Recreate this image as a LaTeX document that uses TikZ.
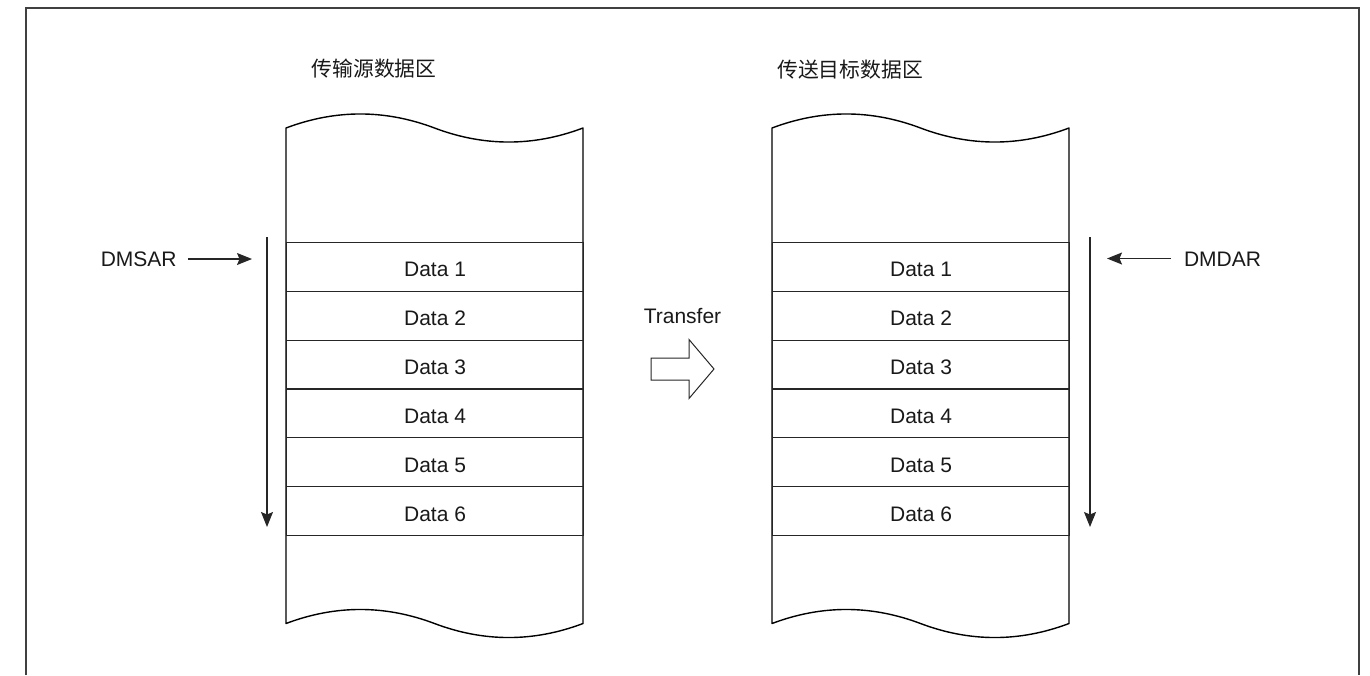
\documentclass[tikz,border=0pt]{standalone}
\usepackage{fontspec}
\setmainfont{Liberation Sans}
\newfontfamily\cjk{Noto Sans CJK SC}
\usetikzlibrary{arrows.meta}
\begin{document}
\begin{tikzpicture}[x=1pt,y=-1pt,
  txt/.style={font=\fontsize{21}{24}\selectfont, text=black!90, inner sep=0pt, anchor=base},
  cjktxt/.style={font=\cjk\fontsize{20.8}{24}\selectfont, text=black!90, inner sep=0pt},
  rowbox/.style={draw=black!85, line width=1.1pt, minimum width=297pt, minimum height=48.83pt, inner sep=0pt, anchor=north west, font=\fontsize{21}{24}\selectfont, text=black!90, text height=22pt, text depth=2pt},
  tape/.style={draw=black, line width=1.4pt, line join=round},
  ptr/.style={draw=black!85, line width=1.2pt, -{Stealth[length=15pt,width=12pt,inset=2.5pt]}},
  frame/.style={draw=black!75, line width=1.3pt}
]
\useasboundingbox (0,0) rectangle (1370,675);
% outer frame (no bottom edge)
\draw[frame] (26,675) -- (26,8) -- (1359,8) -- (1359,675);

% left tape
\draw[tape] (286,128) .. controls (335.5,109.3) and (385,109.3) .. (434.5,128)
  .. controls (484,146.7) and (533.5,146.7) .. (583,128)
  -- (583,623.5) .. controls (533.5,642.2) and (484,642.2) .. (434.5,623.5)
  .. controls (385,604.8) and (335.5,604.8) .. (286,623.5) -- cycle;
% right tape
\draw[tape] (772,128) .. controls (821.5,109.3) and (871,109.3) .. (920.5,128)
  .. controls (970,146.7) and (1019.5,146.7) .. (1069,128)
  -- (1069,623.5) .. controls (1019.5,642.2) and (970,642.2) .. (920.5,623.5)
  .. controls (871,604.8) and (821.5,604.8) .. (772,623.5) -- cycle;

% rows
\foreach \i in {1,...,6}{
  \node[rowbox] (s\i) at (286,{242+(\i-1)*48.83}) {Data \i};
  \node[rowbox] (d\i) at (772,{242+(\i-1)*48.83}) {Data \i};
}

% titles
\node[cjktxt] (srctitle) at (374,69) {传输源数据区};
\node[cjktxt] (dsttitle) at (850,69.5) {传送目标数据区};

% direction arrows
\coordinate (la1) at (267,237);
\coordinate (la2) at (267,527);
\draw[ptr] (la1) -- (la2);
\coordinate (ra1) at (1090,237);
\coordinate (ra2) at (1090,527);
\draw[ptr] (ra1) -- (ra2);

% pointers
\node[txt] (dmsar) at (138.7,266.5) {DMSAR};
\coordinate (dmsartip) at (252,259);
\draw[ptr] (dmsar.east |- dmsartip) ++(11,0) -- (dmsartip);
\node[txt] (dmdar) at (1222.5,266) {DMDAR};
\coordinate (dmdartip) at (1107,258.5);
\draw[ptr] (dmdar.west |- dmdartip) ++(-13,0) -- (dmdartip);

% transfer
\node[txt] (transfer) at (682.5,323.5) {Transfer};
\draw[draw=black!85, line width=1pt, line join=miter] (651,358) -- (689,358) -- (689,339.5) -- (714,369) -- (689,398.5) -- (689,380) -- (651,380) -- cycle;
\end{tikzpicture}
\end{document}
